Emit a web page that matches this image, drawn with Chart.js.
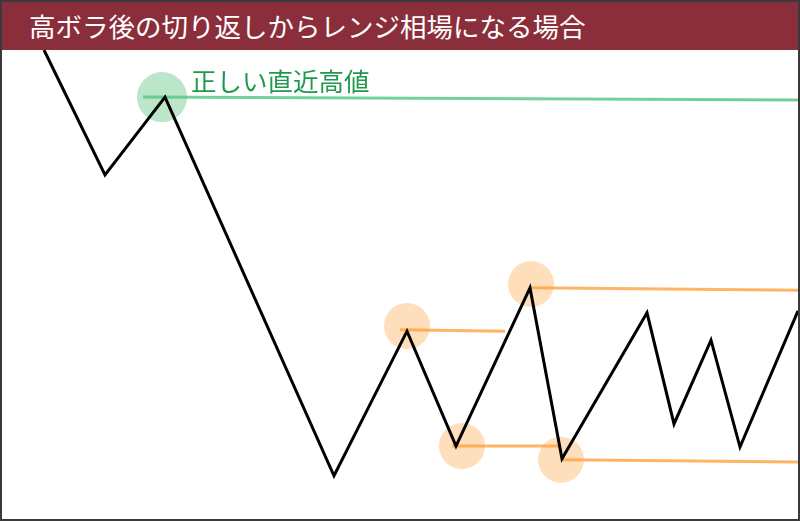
<!DOCTYPE html>
<html>
<head>
<meta charset="utf-8">
<script src="https://cdn.jsdelivr.net/npm/chart.js@4.4.1/dist/chart.umd.min.js"></script>
<style>
    html, body { margin: 0; padding: 0; background: #fff; }
    #wrap { position: relative; width: 800px; height: 521px; overflow: hidden; }
    #chartRange { position: absolute; left: 0; top: 0; }
    #titulo {
        position: absolute; left: 0; top: 0; width: 800px; height: 50px;
        background: #8b2e3b; color: #fff;
        font: 26.5px "Noto Sans CJK JP", sans-serif;
        line-height: 52px; padding-left: 29px; box-sizing: border-box;
    }
    #borda {
        position: absolute; left: 0; top: 0; width: 800px; height: 521px;
        border: 2px solid #3a3a3a; box-sizing: border-box;
        pointer-events: none;
    }
</style>
</head>
<body>
<div id="wrap">
    <canvas id="chartRange" width="800" height="521"></canvas>
    <div id="titulo">高ボラ後の切り返しからレンジ相場になる場合</div>
    <div id="borda"></div>
</div>
<script>
// zigzag do preco
const swingX = [44, 105, 165, 334, 407, 456, 530, 562, 647, 674, 711, 740, 798];
const swingY = [100, 73.5, 90.0, 9.6, 40.3, 15.9, 49.5, 13.2, 44.2, 20.6, 38.4, 15.7, 44.6];

// linha verde (topo correto)
const topoX = [143, 800];
const topoY = [90.0, 89.4];
const topoLabel = '正しい直近高値';

// linhas laranja da range
const range1X = [400, 505];
const range1Y = [40.6, 40.3];
const range2X = [452, 560];
const range2Y = [15.9, 15.9];
const range3X = [530, 800];
const range3Y = [49.5, 49.0];
const range4X = [563, 800];
const range4Y = [13.0, 12.5];

// circulos
const topoMarkX = [162];
const topoMarkY = [90.0];
const rangeMarkX = [407, 462, 531, 561];
const rangeMarkY = [41.4, 15.9, 50.3, 13.0];

const pontos = (xs, ys) => xs.map((x, i) => ({ x: x, y: ys[i] }));

const laranja = 'rgba(255, 163, 60, 0.8)';

function linha(xs, ys, cor) {
    return {
        type: 'line',
        data: pontos(xs, ys),
        borderColor: cor,
        borderWidth: 3,
        pointRadius: 0,
        tension: 0,
    };
}

const ctx = document.getElementById('chartRange').getContext('2d');

new Chart(ctx, {
    type: 'scatter',
    data: {
        datasets: [
            {
                type: 'line',
                data: pontos(swingX, swingY),
                borderColor: '#000',
                borderWidth: 3,
                borderJoinStyle: 'miter',
                pointRadius: 0,
                tension: 0,
            },
            linha(topoX, topoY, 'rgba(92, 200, 135, 0.85)'),
            linha(range1X, range1Y, laranja),
            linha(range2X, range2Y, laranja),
            linha(range3X, range3Y, laranja),
            linha(range4X, range4Y, laranja),
            {
                data: pontos(topoMarkX, topoMarkY),
                backgroundColor: 'rgba(120, 205, 150, 0.5)',
                borderWidth: 0,
                pointRadius: 25,
                pointHoverRadius: 25,
            },
            {
                data: pontos(rangeMarkX, rangeMarkY),
                backgroundColor: 'rgba(255, 190, 120, 0.5)',
                borderWidth: 0,
                pointRadius: 23,
                pointHoverRadius: 23,
            },
        ]
    },
    options: {
        responsive: false,
        animation: false,
        events: [],
        layout: { autoPadding: false, padding: { top: 50, left: 0, right: 0, bottom: 0 } },
        plugins: {
            legend: { display: false },
            tooltip: { enabled: false },
        },
        scales: {
            x: { type: 'linear', min: 0, max: 800, display: false },
            y: { min: 0, max: 100, display: false }
        }
    },
    plugins: [{
        id: 'topoTexto',
        afterDatasetsDraw: function(chart) {
            const c = chart.ctx;
            const x = chart.scales.x.getPixelForValue(topoX[0]) + 48;
            const y = chart.scales.y.getPixelForValue(topoY[0]) - 3;
            c.save();
            c.font = '25.5px "Noto Sans CJK JP"';
            c.fillStyle = '#1f9a4c';
            c.textAlign = 'left';
            c.textBaseline = 'bottom';
            c.fillText(topoLabel, x, y);
            c.restore();
        }
    }]
});
</script>
</body>
</html>
